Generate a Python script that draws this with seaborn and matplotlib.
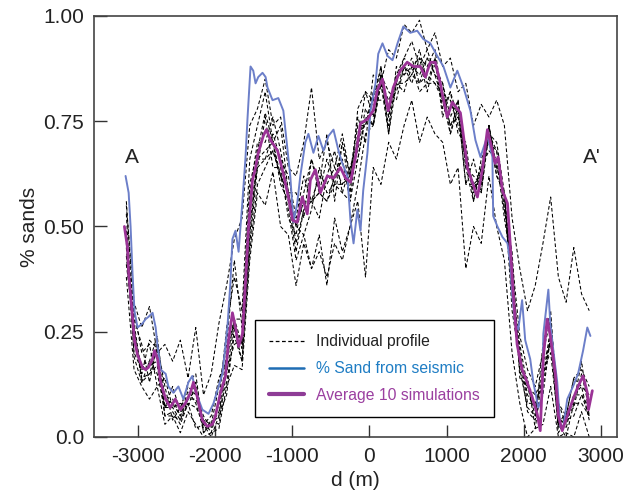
import numpy as np
import pandas as pd
import seaborn as sns
import matplotlib.pyplot as plt
from matplotlib.lines import Line2D

# ---- data ----
d_grid = np.arange(-3150, 2851, 100)

prof_01 = [0.55, 0.32, 0.26, 0.31, 0.20, 0.22, 0.18, 0.23, 0.14, 0.26, 0.10, 0.15, 0.27, 0.36, 0.47, 0.52,
           0.74, 0.78, 0.85, 0.74, 0.76, 0.64, 0.62, 0.70, 0.83, 0.66, 0.70, 0.64, 0.72, 0.62, 0.76, 0.70,
           0.86, 0.84, 0.92, 0.90, 0.98, 0.96, 0.99, 0.92, 0.96, 0.88, 0.90, 0.82, 0.84, 0.74, 0.79, 0.76,
           0.80, 0.74, 0.52, 0.40, 0.30, 0.36, 0.46, 0.57, 0.38, 0.32, 0.45, 0.34, 0.30]
prof_02 = [0.38, 0.16, 0.12, 0.09, 0.12, 0.03, 0.05, 0.01, 0.06, 0.03, 0.00, 0.01, 0.02, 0.12, 0.17, 0.16,
           0.42, 0.58, 0.55, 0.63, 0.50, 0.48, 0.36, 0.46, 0.40, 0.48, 0.36, 0.52, 0.44, 0.50, 0.56, 0.38,
           0.64, 0.60, 0.70, 0.66, 0.74, 0.80, 0.70, 0.76, 0.72, 0.70, 0.60, 0.64, 0.40, 0.50, 0.46, 0.62,
           0.50, 0.42, 0.20, 0.08, 0.00, 0.02, 0.03, 0.12, 0.00, 0.01, 0.00, 0.06, 0.00]
prof_03 = [0.56, 0.28, 0.22, 0.13, 0.22, 0.12, 0.04, 0.07, 0.12, 0.10, 0.05, 0.02, 0.08, 0.26, 0.38, 0.30,
           0.66, 0.74, 0.82, 0.70, 0.74, 0.58, 0.58, 0.52, 0.66, 0.60, 0.72, 0.56, 0.70, 0.58, 0.78, 0.82,
           0.80, 0.88, 0.76, 0.86, 0.90, 0.94, 0.88, 0.92, 0.86, 0.80, 0.74, 0.78, 0.60, 0.66, 0.58, 0.74,
           0.62, 0.58, 0.30, 0.18, 0.06, 0.04, 0.22, 0.30, 0.02, 0.05, 0.14, 0.12, 0.04]
prof_04 = [0.45, 0.20, 0.16, 0.17, 0.18, 0.07, 0.12, 0.06, 0.13, 0.15, 0.01, 0.03, 0.12, 0.22, 0.42, 0.26,
           0.60, 0.68, 0.77, 0.70, 0.60, 0.56, 0.44, 0.54, 0.56, 0.52, 0.62, 0.68, 0.58, 0.64, 0.70, 0.82,
           0.76, 0.88, 0.72, 0.88, 0.86, 0.90, 0.84, 0.90, 0.88, 0.84, 0.72, 0.80, 0.64, 0.56, 0.64, 0.68,
           0.66, 0.52, 0.40, 0.16, 0.14, 0.02, 0.16, 0.20, 0.03, 0.00, 0.08, 0.08, 0.05]
prof_05 = [0.47, 0.25, 0.14, 0.15, 0.17, 0.05, 0.06, 0.03, 0.08, 0.07, 0.04, 0.03, 0.06, 0.13, 0.24, 0.18,
           0.48, 0.66, 0.68, 0.70, 0.62, 0.54, 0.42, 0.48, 0.40, 0.44, 0.38, 0.46, 0.42, 0.50, 0.60, 0.72,
           0.74, 0.86, 0.82, 0.80, 0.88, 0.84, 0.90, 0.82, 0.90, 0.76, 0.82, 0.72, 0.70, 0.56, 0.66, 0.70,
           0.68, 0.54, 0.44, 0.14, 0.12, 0.05, 0.18, 0.22, 0.08, 0.03, 0.10, 0.12, 0.10]
prof_06 = [0.53, 0.19, 0.13, 0.15, 0.21, 0.07, 0.07, 0.04, 0.09, 0.09, 0.04, 0.01, 0.08, 0.15, 0.27, 0.21,
           0.46, 0.64, 0.66, 0.72, 0.66, 0.62, 0.52, 0.62, 0.56, 0.58, 0.56, 0.62, 0.66, 0.56, 0.72, 0.74,
           0.80, 0.80, 0.80, 0.82, 0.88, 0.86, 0.92, 0.84, 0.90, 0.78, 0.82, 0.76, 0.68, 0.58, 0.64, 0.72,
           0.70, 0.58, 0.36, 0.22, 0.12, 0.10, 0.14, 0.24, 0.03, 0.06, 0.08, 0.18, 0.05]
prof_07 = [0.46, 0.30, 0.20, 0.22, 0.12, 0.14, 0.07, 0.08, 0.07, 0.13, 0.03, 0.05, 0.14, 0.18, 0.28, 0.22,
           0.54, 0.64, 0.76, 0.64, 0.64, 0.52, 0.48, 0.58, 0.66, 0.58, 0.66, 0.60, 0.70, 0.62, 0.74, 0.74,
           0.82, 0.84, 0.80, 0.84, 0.90, 0.88, 0.90, 0.88, 0.92, 0.80, 0.80, 0.74, 0.66, 0.60, 0.62, 0.72,
           0.68, 0.54, 0.42, 0.24, 0.16, 0.12, 0.20, 0.28, 0.08, 0.05, 0.14, 0.16, 0.12]
prof_08 = [0.43, 0.23, 0.17, 0.18, 0.24, 0.09, 0.08, 0.05, 0.11, 0.08, 0.02, 0.03, 0.05, 0.20, 0.28, 0.28,
           0.58, 0.70, 0.70, 0.76, 0.68, 0.58, 0.50, 0.48, 0.54, 0.64, 0.58, 0.60, 0.60, 0.62, 0.66, 0.76,
           0.74, 0.84, 0.74, 0.84, 0.84, 0.86, 0.84, 0.86, 0.84, 0.82, 0.74, 0.76, 0.66, 0.60, 0.58, 0.72,
           0.62, 0.58, 0.34, 0.20, 0.08, 0.08, 0.12, 0.24, 0.05, 0.02, 0.10, 0.10, 0.07]
prof_09 = [0.41, 0.26, 0.13, 0.18, 0.15, 0.07, 0.09, 0.05, 0.09, 0.11, 0.01, 0.04, 0.03, 0.16, 0.22, 0.23,
           0.50, 0.66, 0.66, 0.68, 0.62, 0.58, 0.50, 0.56, 0.56, 0.62, 0.60, 0.64, 0.60, 0.64, 0.68, 0.78,
           0.74, 0.86, 0.76, 0.86, 0.86, 0.88, 0.86, 0.90, 0.86, 0.84, 0.76, 0.80, 0.64, 0.62, 0.60, 0.74,
           0.64, 0.58, 0.36, 0.20, 0.10, 0.07, 0.14, 0.26, 0.03, 0.05, 0.07, 0.15, 0.07]
prof_10 = [0.49, 0.27, 0.15, 0.23, 0.21, 0.05, 0.05, 0.04, 0.08, 0.02, 0.03, 0.00, 0.05, 0.10, 0.26, 0.18,
           0.44, 0.60, 0.64, 0.68, 0.62, 0.58, 0.46, 0.54, 0.56, 0.58, 0.56, 0.60, 0.58, 0.56, 0.66, 0.76,
           0.74, 0.84, 0.72, 0.84, 0.82, 0.88, 0.82, 0.84, 0.84, 0.80, 0.72, 0.78, 0.60, 0.60, 0.60, 0.74,
           0.64, 0.58, 0.34, 0.16, 0.07, 0.05, 0.10, 0.24, 0.01, 0.04, 0.05, 0.10, 0.05]
profiles = [prof_01, prof_02, prof_03, prof_04, prof_05, prof_06, prof_07, prof_08, prof_09, prof_10]

seis_d = [-3160, -3120, -3095, -3070, -3045, -3005, -2940, -2900, -2865, -2810, -2770, -2745, -2705, -2640,
          -2605, -2540, -2475, -2410, -2345, -2295, -2255, -2165, -2085, -2020, -1955, -1905, -1840, -1800,
          -1775, -1735, -1695, -1645, -1605, -1580, -1540, -1505, -1475, -1440, -1385, -1345, -1320, -1255,
          -1180, -1115, -1060, -1025, -985, -935, -895, -830, -790, -725, -660, -595, -530, -465, -400, -350,
          -285, -245, -205, -155, -115, -80, -25, 15, 80, 115, 170, 235, 300, 365, 440, 530, 620, 700, 790,
          880, 960, 1050, 1140, 1220, 1310, 1375, 1440, 1530, 1595, 1605, 1660, 1725, 1790, 1825, 1850, 1890,
          1930, 1980, 2020, 2085, 2125, 2190, 2240, 2255, 2320, 2345, 2385, 2435, 2475, 2515, 2565, 2640,
          2705, 2770, 2825, 2865]
seis_v = [0.62, 0.58, 0.50, 0.39, 0.30, 0.26, 0.27, 0.28, 0.285, 0.295, 0.26, 0.215, 0.16, 0.15, 0.12, 0.105,
          0.12, 0.09, 0.13, 0.145, 0.11, 0.065, 0.055, 0.08, 0.12, 0.15, 0.26, 0.37, 0.47, 0.49, 0.44, 0.56,
          0.665, 0.755, 0.88, 0.87, 0.84, 0.855, 0.865, 0.855, 0.83, 0.80, 0.805, 0.775, 0.68, 0.62, 0.51,
          0.555, 0.62, 0.70, 0.72, 0.675, 0.715, 0.68, 0.715, 0.73, 0.68, 0.65, 0.62, 0.515, 0.46, 0.54, 0.49,
          0.585, 0.675, 0.775, 0.84, 0.91, 0.935, 0.905, 0.895, 0.935, 0.975, 0.96, 0.965, 0.945, 0.935, 0.905,
          0.88, 0.83, 0.87, 0.83, 0.775, 0.705, 0.665, 0.715, 0.665, 0.525, 0.50, 0.475, 0.46, 0.415, 0.34,
          0.27, 0.255, 0.325, 0.23, 0.185, 0.13, 0.07, 0.095, 0.245, 0.35, 0.27, 0.205, 0.13, 0.025, 0.025,
          0.09, 0.12, 0.15, 0.205, 0.26, 0.24]

avg_d = [-3175, -3135, -3120, -3070, -3045, -3005, -2940, -2900, -2865, -2810, -2785, -2745, -2705, -2640,
         -2580, -2515, -2450, -2385, -2320, -2280, -2230, -2165, -2100, -2035, -1995, -1930, -1865, -1825,
         -1775, -1735, -1695, -1645, -1605, -1565, -1515, -1475, -1440, -1375, -1335, -1280, -1190, -1115,
         -1050, -995, -935, -870, -805, -765, -700, -635, -545, -465, -375, -310, -245, -180, -115, -25, 50,
         105, 170, 245, 310, 400, 490, 570, 660, 725, 790, 855, 920, 945, 1010, 1075, 1180, 1220, 1270, 1335,
         1400, 1465, 1530, 1595, 1630, 1670, 1725, 1790, 1825, 1865, 1915, 1980, 2045, 2110, 2175, 2215, 2255,
         2305, 2345, 2410, 2450, 2500, 2565, 2640, 2705, 2770, 2825, 2840, 2890]
avg_v = [0.50, 0.45, 0.39, 0.285, 0.23, 0.195, 0.165, 0.16, 0.165, 0.185, 0.205, 0.185, 0.13, 0.09, 0.07,
         0.09, 0.065, 0.08, 0.105, 0.13, 0.095, 0.04, 0.025, 0.03, 0.05, 0.105, 0.145, 0.23, 0.295, 0.26,
         0.215, 0.245, 0.37, 0.50, 0.61, 0.64, 0.675, 0.715, 0.73, 0.705, 0.68, 0.625, 0.57, 0.515, 0.51,
         0.57, 0.53, 0.61, 0.635, 0.58, 0.62, 0.615, 0.64, 0.615, 0.605, 0.665, 0.745, 0.755, 0.775, 0.825,
         0.85, 0.775, 0.83, 0.87, 0.89, 0.88, 0.88, 0.855, 0.89, 0.89, 0.84, 0.815, 0.76, 0.795, 0.77, 0.715,
         0.64, 0.605, 0.57, 0.635, 0.73, 0.68, 0.65, 0.665, 0.585, 0.555, 0.46, 0.34, 0.22, 0.16, 0.13, 0.095,
         0.055, 0.015, 0.19, 0.28, 0.24, 0.15, 0.05, 0.015, 0.05, 0.09, 0.12, 0.145, 0.105, 0.065, 0.11]

x_ticks = [-3000, -2000, -1000, 0, 1000, 2000, 3000]
y_ticks = [0.0, 0.25, 0.5, 0.75, 1.0]
y_tick_labels = ["0.0", "0.25", "0.50", "0.75", "1.00"]

# ---- style ----
sns.set_style("ticks")
plt.rcParams['font.family'] = ['Liberation Sans', 'DejaVu Sans']
plt.rcParams['axes.unicode_minus'] = False

SEIS_COL = "#6c7fc9"
AVG_COL = "#9b3396"
DASH = (0, (3.5, 2.2))

fig = plt.figure(figsize=(6.39, 4.93), dpi=100)
ax = fig.add_axes([0.147, 0.1136, 0.8186, 0.854])

# individual simulated profiles
long_df = pd.DataFrame({
    "d": np.tile(d_grid, len(profiles)),
    "sand": np.concatenate(profiles),
    "sim": np.repeat(np.arange(len(profiles)), len(d_grid)),
})
for sim_id, grp in long_df.groupby("sim"):
    sns.lineplot(data=grp, x="d", y="sand", ax=ax, color="black", lw=0.75,
                 linestyle=DASH, estimator=None, zorder=2)

sns.lineplot(x=seis_d, y=seis_v, ax=ax, color=SEIS_COL, lw=1.4, estimator=None, zorder=3)
sns.lineplot(x=avg_d, y=avg_v, ax=ax, color=AVG_COL, lw=2.0, estimator=None, zorder=4)

ax.set_xlim(-3570, 3210)
ax.set_ylim(0, 1)
ax.set_xticks(x_ticks)
ax.set_xticklabels([str(t) for t in x_ticks])
ax.set_yticks(y_ticks)
ax.set_yticklabels(y_tick_labels)
ax.tick_params(direction="in", length=9, width=1.0, color="#333333", labelsize=15,
               labelcolor="#222222", pad=7)
for s in ax.spines.values():
    s.set_color("#444444")
    s.set_linewidth(1.2)

ax.set_xlabel("d (m)", fontsize=15, color="#222222", labelpad=4)
ax.set_ylabel("% sands", fontsize=15, color="#222222", labelpad=3)

ax.text(-3083, 0.663, "A", fontsize=15, ha="center", va="center", color="#222222")
ax.text(2888, 0.663, "A'", fontsize=15, ha="center", va="center", color="#222222")

handles = [
    Line2D([], [], color="black", lw=0.9, linestyle=(0, (3, 2))),
    Line2D([], [], color="#1f6db4", lw=1.8),
    Line2D([], [], color="#8e3c96", lw=3.0),
]
labels = ["Individual profile", "% Sand from seismic", "Average 10 simulations"]
leg = ax.legend(handles, labels, loc="lower left", bbox_to_anchor=(0.308, 0.0475),
                fontsize=11.3, frameon=True, fancybox=False, framealpha=1,
                edgecolor="black", handlelength=2.2, labelspacing=0.75,
                borderpad=0.9, handletextpad=0.8, borderaxespad=0)
leg.get_frame().set_linewidth(1.0)
for txt, c in zip(leg.get_texts(), ["#222222", "#1f7dc4", "#9b3fa0"]):
    txt.set_color(c)

fig.savefig("out.png", dpi=100)
